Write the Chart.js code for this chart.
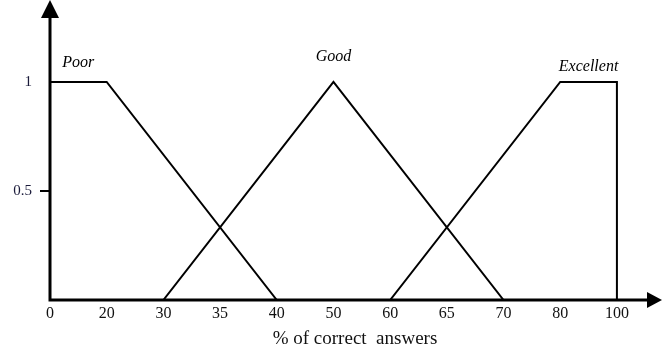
<!DOCTYPE html>
<html>
<head>
<meta charset="utf-8">
<script src="https://cdn.jsdelivr.net/npm/chart.js@4"></script>
<style>
  html, body { margin: 0; padding: 0; background: #fff; }
  #wrap { width: 662px; height: 350px; position: relative; }
</style>
</head>
<body>
<div id="wrap"><canvas id="chart"></canvas></div>
<script>
// tick labels on the x axis (evenly spaced, not to scale)
var tickValues = [0, 20, 30, 35, 40, 50, 60, 65, 70, 80, 100];
var yTicks = [0.5, 1];

var seriesNames = ['Poor', 'Good', 'Excellent'];
var poorX = [0, 20, 40];
var poorY = [1, 1, 0];
var goodX = [30, 50, 70];
var goodY = [0, 1, 0];
var excellentX = [60, 80, 100, 100];
var excellentY = [0, 1, 1, 0];

function toPoints(xs, ys) {
  return xs.map(function (x, i) {
    return { x: tickValues.indexOf(x), y: ys[i] };
  });
}

var serif = '"Liberation Serif", "DejaVu Serif", serif';

// axis lines with arrow heads, and the italic set names
var decorations = {
  id: 'decorations',
  afterDatasetsDraw: function (chart) {
    var ctx = chart.ctx;
    var xs = chart.scales.x, ys = chart.scales.y;
    var x0 = xs.getPixelForValue(0), y0 = ys.getPixelForValue(0);
    var top = chart.chartArea.top, right = chart.chartArea.right;
    ctx.save();
    ctx.strokeStyle = '#000';
    ctx.fillStyle = '#000';
    ctx.lineWidth = 3;
    ctx.lineCap = 'square';
    ctx.beginPath();
    ctx.moveTo(x0, top + 14);
    ctx.lineTo(x0, y0);
    ctx.lineTo(right - 12, y0);
    ctx.stroke();
    ctx.beginPath();
    ctx.moveTo(x0, top);
    ctx.lineTo(x0 - 9, top + 18);
    ctx.lineTo(x0 + 9, top + 18);
    ctx.closePath();
    ctx.fill();
    ctx.beginPath();
    ctx.moveTo(right + 2, y0);
    ctx.lineTo(right - 13, y0 - 8);
    ctx.lineTo(right - 13, y0 + 8);
    ctx.closePath();
    ctx.fill();

    ctx.font = 'italic 16px ' + serif;
    ctx.textAlign = 'center';
    ctx.textBaseline = 'middle';
    var lift = [19, 25, 15];
    chart.data.datasets.forEach(function (ds, i) {
      var tops = ds.data.filter(function (p) { return p.y === 1; });
      var cx = tops.reduce(function (a, p) { return a + p.x; }, 0) / tops.length;
      ctx.fillText(seriesNames[i], xs.getPixelForValue(cx), ys.getPixelForValue(1) - lift[i]);
    });
    ctx.restore();
  }
};

var lineStyle = {
  showLine: true,
  borderColor: '#000',
  borderWidth: 2,
  pointRadius: 0,
  fill: false,
  tension: 0
};

new Chart(document.getElementById('chart'), {
  type: 'scatter',
  data: {
    datasets: [
      Object.assign({ label: seriesNames[0], data: toPoints(poorX, poorY) }, lineStyle),
      Object.assign({ label: seriesNames[1], data: toPoints(goodX, goodY) }, lineStyle),
      Object.assign({ label: seriesNames[2], data: toPoints(excellentX, excellentY) }, lineStyle)
    ]
  },
  options: {
    responsive: true,
    maintainAspectRatio: false,
    animation: false,
    layout: { padding: { top: 0, right: 2, bottom: 0, left: 0 } },
    plugins: {
      legend: { display: false },
      tooltip: { enabled: false }
    },
    scales: {
      x: {
        type: 'linear',
        min: 0,
        max: 10.76,
        afterBuildTicks: function (scale) {
          scale.ticks = tickValues.map(function (v, i) { return { value: i }; });
        },
        afterFit: function (scale) {
          scale.height = 50;
          scale.paddingLeft = 0;
          scale.paddingRight = 0;
        },
        border: { display: false },
        grid: { display: false, drawTicks: false },
        ticks: {
          padding: 4,
          color: '#111',
          font: { family: serif, size: 16 },
          maxRotation: 0,
          autoSkip: false,
          callback: function (v) { return String(tickValues[v]); }
        },
        title: {
          display: true,
          text: '% of correct  answers',
          color: '#111',
          font: { family: serif, size: 19 },
          padding: { top: 0, bottom: 0 }
        }
      },
      y: {
        min: 0,
        max: 1.376,
        afterBuildTicks: function (scale) {
          scale.ticks = yTicks.map(function (v) { return { value: v }; });
        },
        afterFit: function (scale) {
          scale.width = 50;
          scale.paddingTop = 0;
          scale.paddingBottom = 0;
        },
        border: { display: false },
        grid: {
          drawOnChartArea: false,
          tickLength: 10,
          lineWidth: 2,
          color: function (c) { return c.tick && c.tick.value === 0.5 ? '#000' : 'rgba(0,0,0,0)'; }
        },
        ticks: {
          padding: 8,
          color: '#1a1a3a',
          font: { family: serif, size: 15 },
          callback: function (v) { return String(v); }
        }
      }
    }
  },
  plugins: [decorations]
});
</script>
</body>
</html>
